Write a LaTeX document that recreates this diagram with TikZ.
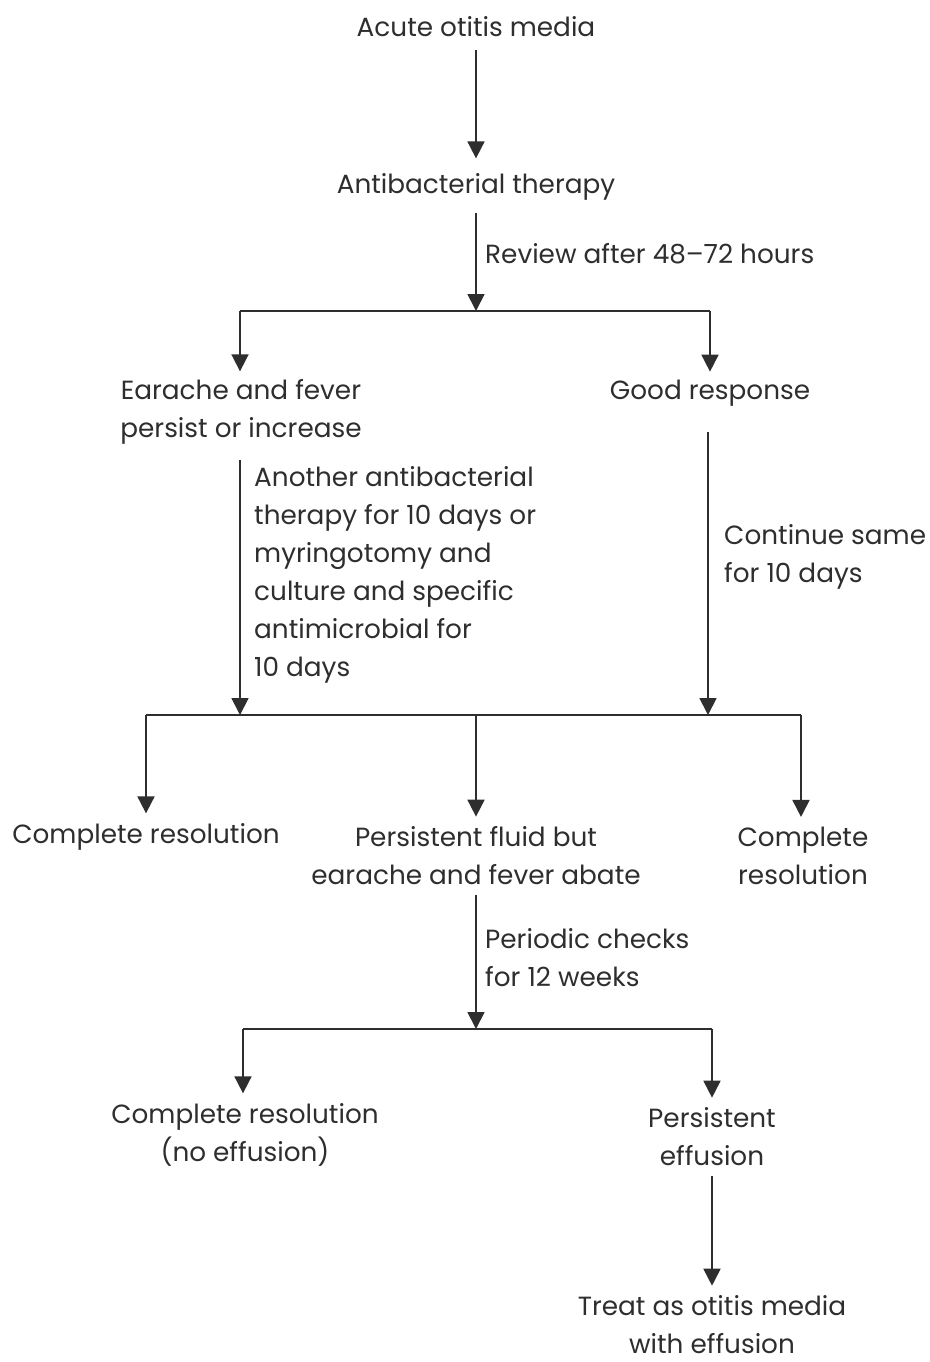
\documentclass[tikz,border=0pt]{standalone}
\usepackage{fontspec}
\setmainfont{Poppins}
\usetikzlibrary{arrows.meta}
\begin{document}
\begin{tikzpicture}[x=1pt,y=-1pt,
  txt/.style={inner sep=0pt,align=center,font=\fontsize{26.3}{38}\selectfont,text=black!82},
  lbl/.style={inner sep=0pt,align=left,anchor=west,font=\fontsize{26.3}{38}\selectfont,text=black!82},
  ln/.style={line width=1.8pt,draw=black!82},
  arr/.style={ln,-{Triangle[length=17pt,width=17pt]}}]
\path[use as bounding box,fill=white] (0,0) rectangle (929,1362);
% nodes
\node[txt] (A) at (476,27) {Acute otitis media};
\node[txt] (B) at (476,187) {Antibacterial therapy};
\node[lbl] (RL) at (485,254) {Review after 48--72 hours};
\coordinate (J1) at (476,311);
\coordinate (J1L) at (240,311);
\coordinate (J1R) at (710,311);
\node[txt] (C) at (241,412) {Earache and fever\\persist or increase};
\node[txt] (D) at (710,393) {Good response};
\node[lbl] (EL) at (254,575) {Another antibacterial\\therapy for 10 days or\\myringotomy and\\culture and specific\\antimicrobial for\\10 days};
\node[lbl] (FL) at (724,557) {Continue same\\for 10 days};
\coordinate (J2) at (476,715);
\coordinate (J2L) at (146,715);
\coordinate (J2R) at (801,715);
\coordinate (J2a) at (240,715);
\coordinate (J2b) at (708,715);
\node[txt] (G) at (146,837) {Complete resolution};
\node[txt] (H) at (476,856) {Persistent fluid but\\earache and fever abate};
\node[txt] (I) at (803,856) {Complete\\resolution};
\node[lbl] (PL) at (485,958) {Periodic checks\\for 12 weeks};
\coordinate (J3) at (476,1029);
\coordinate (J3L) at (243,1029);
\coordinate (J3R) at (712,1029);
\node[txt] (K) at (245,1135) {Complete resolution\\(no effusion)};
\node[txt] (L) at (712,1137) {Persistent\\effusion};
\node[txt] (M) at (712,1325) {Treat as otitis media\\with effusion};
% connectors
\draw[arr,shorten <=13pt,shorten >=15pt] (A) -- (B);
\draw[arr,shorten <=12pt] (B) -- (J1);
\draw[ln] (J1L) -- (J1R);
\draw[arr,shorten >=8pt] (J1L) -- (J1L |- C.north);
\draw[arr,shorten >=8pt] (J1R) -- (J1R |- D.north);
\draw[arr,shorten <=15pt] (C.south -| J2a) -- (J2a);
\draw[arr,shorten <=26pt] (D.south -| J2b) -- (J2b);
\draw[ln] (J2L) -- (J2R);
\draw[arr,shorten >=10pt] (J2L) -- (J2L |- G.north);
\draw[arr,shorten >=10pt] (J2) -- (H.north);
\draw[arr,shorten >=10pt] (J2R) -- (J2R |- I.north);
\draw[arr,shorten <=10pt] (H) -- (J3);
\draw[ln] (J3L) -- (J3R);
\draw[arr,shorten >=10pt] (J3L) -- (J3L |- K.north);
\draw[arr,shorten >=10pt] (J3R) -- (L.north);
\draw[arr,shorten <=10pt,shorten >=10pt] (L) -- (M);
\end{tikzpicture}
\end{document}
